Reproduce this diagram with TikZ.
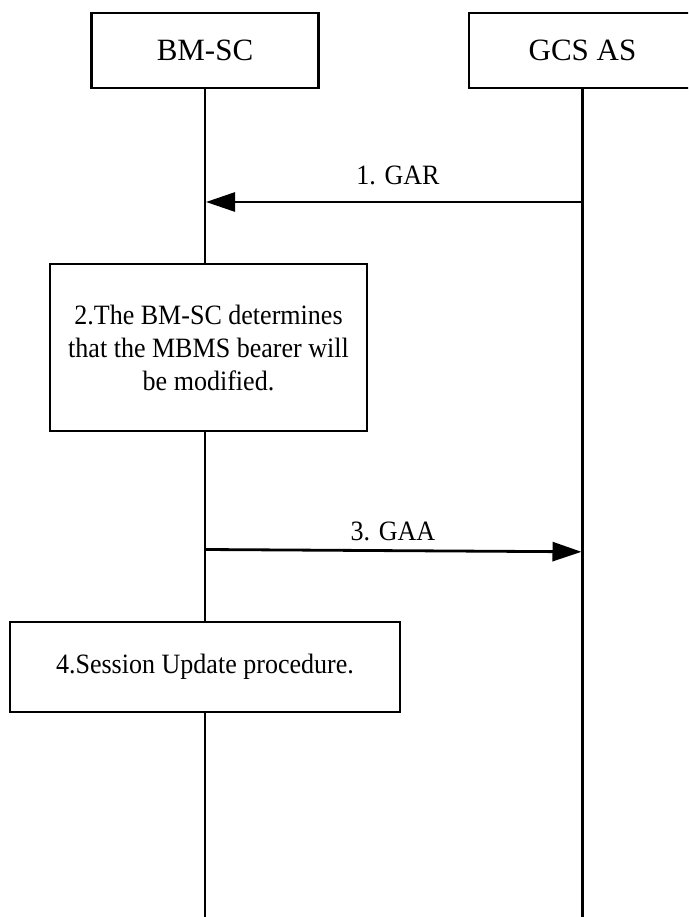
\documentclass[tikz,border=0pt]{standalone}
\usepackage{fontspec}
\setmainfont{Liberation Serif}
\newfontfamily\narrowserif[FakeStretch=0.93]{Liberation Serif}
\usetikzlibrary{arrows.meta}
\begin{document}
\begin{tikzpicture}[x=1pt,y=-1pt,
  head/.style={draw=black,line width=2.6pt,fill=white,minimum width=227pt,minimum height=75pt,inner sep=0pt,font=\fontsize{31}{36}\selectfont},
  stepbox/.style={draw=black,line width=2.6pt,fill=white,inner sep=0pt,align=center,font=\narrowserif\fontsize{28}{33}\selectfont},
  lifeline/.style={line width=2.2pt},
  msg/.style={line width=2.8pt,-{Triangle[length=29pt,width=19pt]}},
  lbl/.style={inner sep=0pt,font=\narrowserif\fontsize{28}{30}\selectfont}]
\clip (0,0) rectangle (688,917);
\useasboundingbox (0,0) rectangle (688,917);
% lifelines
\coordinate (bmTop) at (205,88);
\coordinate (bmBot) at (205,917);
\coordinate (gcTop) at (582.5,88);
\coordinate (gcBot) at (582.5,917);
\draw[lifeline] (bmTop) -- (bmBot);
\draw[lifeline] (gcTop) -- (gcBot);
% headers
\node[head] (bmsc) at (205,50.5) {BM-SC};
\node[head] (gcsas) at (582.5,50.5) {GCS AS};
% message 1
\coordinate (garS) at (582.5,202);
\coordinate (garE) at (206,202);
\draw[msg] (garS) -- (garE);
\node[lbl] (garL) at (398,175) {1. GAR};
% box 2
\node[stepbox,minimum width=317pt,minimum height=167pt] (step2) at (208.5,347.5)
  {2.The BM-SC determines\\that the MBMS bearer will\\be modified.};
% message 3
\coordinate (gaaS) at (205,549.5);
\coordinate (gaaE) at (581.5,551.8);
\draw[msg] (gaaS) -- (gaaE);
\node[lbl] (gaaL) at (393,531) {3. GAA};
% box 4
\node[stepbox,minimum width=390pt,minimum height=90pt] (step4) at (205,667)
  {4.Session Update procedure.};
\end{tikzpicture}
\end{document}
